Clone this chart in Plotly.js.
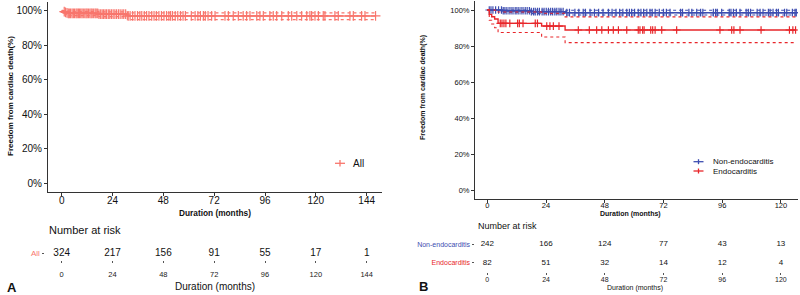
<!DOCTYPE html>
<html>
<head>
<meta charset="utf-8">
<script src="https://cdn.plot.ly/plotly-3.0.1.min.js"></script>
<style>
  html, body { margin: 0; padding: 0; background: #fff; }
  #chart { width: 800px; height: 295px; }
</style>
</head>
<body>
<div id="chart"></div>
<script>
// ---------------- Panel A data (All patients) ----------------
const timesA = [0, 0.4, 0.9, 1.5, 2.2, 3.0, 17.5, 31.0];
const survA  = [100, 99.7, 99.4, 99.0, 98.7, 98.4, 98.0, 96.9];
const upperA = [100, 100, 100, 99.9, 99.7, 99.5, 99.3, 98.7];
const lowerA = [100, 99.1, 98.7, 98.1, 97.6, 97.1, 96.5, 94.8];
const endA = 148.2;
const censorA = [1.2, 1.8, 2.5, 3.1, 3.6, 4.2, 4.9, 5.5, 6.1, 6.8, 7.3, 7.9, 8.4, 9.0, 9.6,
  10.2, 10.9, 11.5, 12.0, 12.6, 13.3, 13.9, 14.4, 15.1, 15.8, 16.3, 17.0, 17.6, 18.4, 19.1,
  19.8, 20.5, 21.2, 22.0, 22.7, 23.5, 24.3, 25.1, 25.9, 26.8, 27.6, 28.5, 29.3, 30.2, 31.4,
  32.3, 33.5, 34.6, 35.8, 36.9, 37.8, 39.0, 40.1, 41.2, 42.5, 43.6, 44.7, 45.9, 47.1, 48.3,
  49.5, 50.6, 51.4, 52.3, 53.6, 54.8, 56.1, 57.3, 58.4, 61.2, 63.0, 64.3, 65.5, 66.9, 67.8,
  69.1, 70.8, 72.4, 77.1, 78.7, 81.0, 83.4, 85.7, 87.3, 88.9, 92.1, 93.6, 95.2, 98.3, 99.9,
  101.5, 103.9, 107.0, 108.6, 111.0, 113.3, 115.7, 117.2, 118.0, 119.6, 121.2, 123.5, 124.3,
  129.0, 130.6, 136.1, 137.7, 141.6, 143.2, 148.2];
const riskTimesA = [0, 24, 48, 72, 96, 120, 144];
const riskAll = [324, 217, 156, 91, 55, 17, 1];

// ---------------- Panel B data ----------------
const timesNon = [0, 6.0, 17.5, 31.8];
const survNon  = [100, 99.6, 99.1, 98.5];
const upperNon = [100, 100, 100, 99.9];
const lowerNon = [100, 98.8, 98.0, 97.2];
const endNon = 126.3;
const censorNon = [0.8, 1.5, 2.3, 3.4, 4.6, 5.8, 6.5, 7.2, 8.0, 8.9, 9.7, 10.5, 11.4, 12.1,
  12.9, 13.8, 14.6, 15.5, 16.3, 17.2, 18.0, 18.9, 19.6, 20.5, 21.3, 22.4, 23.2, 24.1, 25.0,
  25.9, 26.7, 27.6, 28.4, 29.3, 30.1, 31.0, 32.5, 33.6, 35.8, 37.4, 39.2, 40.1, 42.0, 43.8,
  45.5, 47.3, 49.5, 51.0, 52.6, 54.1, 55.4, 57.0, 58.1, 59.0, 60.2, 61.7, 62.8, 63.9, 65.2,
  66.5, 67.4, 68.6, 70.3, 72.0, 73.2, 74.7, 79.0, 79.8, 82.4, 83.6, 85.6, 87.2, 88.1, 92.4,
  93.3, 94.0, 95.8, 98.9, 99.6, 100.6, 101.8, 103.3, 105.8, 106.7, 107.6, 110.3, 111.5,
  112.7, 114.9, 115.6, 116.8, 118.2, 119.0, 121.5, 122.4, 124.7, 125.8, 126.3];

const timesEndo = [0, 0.8, 1.8, 3.0, 4.4, 22.2, 31.8];
const survEndo  = [100, 97.6, 96.3, 95.0, 92.6, 91.1, 88.9];
const upperEndo = [100, 100, 100, 99.9, 98.9, 98.2, 96.2];
const lowerEndo = [100, 94.3, 92.2, 90.2, 87.5, 85.0, 81.9];
const endEndo = 126.0;
const censorEndo = [5.3, 6.0, 6.8, 7.6, 9.2, 12.4, 13.1, 14.6, 19.6, 20.5, 24.3, 25.6, 27.0,
  29.3, 37.2, 41.7, 44.7, 46.8, 49.5, 51.5, 53.6, 57.0, 61.7, 62.4, 63.5, 64.1, 66.8, 67.6,
  68.6, 71.3, 77.4, 95.1, 99.9, 100.8, 103.3, 111.9, 123.5, 124.9, 126.0];

const riskTimesB = [0, 24, 48, 72, 96, 120];
const riskNon  = [242, 166, 124, 77, 43, 13];
const riskEndo = [82, 51, 32, 14, 12, 4];

const groupLabelsB = ['Endocarditis', 'Non-endocarditis'];

// ---------------- styles ----------------
const colA = '#F8766D';
const colNon = '#3D4DB0';
const colEndo = '#E8262A';
const FONT = 'Liberation Sans, Arial, Helvetica, sans-serif';
const W = 800, H = 295;
const px = v => v / W;
const py = v => 1 - v / H;

function stepXY(times, vals, end) {
  return { x: times.concat([end]), y: vals.concat([vals[vals.length - 1]]) };
}
function survAt(times, vals, t) {
  let v = vals[0];
  for (let i = 0; i < times.length; i++) if (times[i] <= t) v = vals[i];
  return v;
}

function kmTraces(times, surv, up, lo, end, cens, color, xa, ya, msize, lw) {
  const s = stepXY(times, surv, end);
  const u = stepXY(times, up, end);
  const l = stepXY(times, lo, end);
  const common = { type: 'scatter', mode: 'lines', xaxis: xa, yaxis: ya, hoverinfo: 'skip', showlegend: false };
  return [
    Object.assign({}, common, { x: u.x, y: u.y, line: { color: color, width: 1.1, dash: 'dot', shape: 'hv' } }),
    Object.assign({}, common, { x: l.x, y: l.y, line: { color: color, width: 1.1, dash: 'dot', shape: 'hv' } }),
    Object.assign({}, common, { x: s.x, y: s.y, line: { color: color, width: lw, shape: 'hv' } }),
    { type: 'scatter', mode: 'markers', xaxis: xa, yaxis: ya, hoverinfo: 'skip', showlegend: false,
      x: cens, y: cens.map(t => survAt(times, surv, t)),
      marker: { symbol: 'cross-thin', size: msize, color: color, line: { color: color, width: 1.2 } } }
  ];
}

const data = [];
data.push(...kmTraces(timesA, survA, upperA, lowerA, endA, censorA, colA, 'x', 'y', 7, 1.5));
data.push(...kmTraces(timesNon, survNon, upperNon, lowerNon, endNon, censorNon, colNon, 'x2', 'y2', 5.5, 1.4));
data.push(...kmTraces(timesEndo, survEndo, upperEndo, lowerEndo, endEndo, censorEndo, colEndo, 'x2', 'y2', 5.5, 1.4));

// risk tables
data.push({ type: 'scatter', mode: 'text', xaxis: 'x3', yaxis: 'y3', x: riskTimesA,
  y: riskAll.map(() => 0), text: riskAll.map(String), textposition: 'middle center',
  textfont: { size: 10, color: '#111' }, hoverinfo: 'skip', showlegend: false });
data.push({ type: 'scatter', mode: 'text', xaxis: 'x4', yaxis: 'y4', x: riskTimesB,
  y: riskNon.map(() => 1), text: riskNon.map(String), textposition: 'middle center',
  textfont: { size: 8, color: '#111' }, hoverinfo: 'skip', showlegend: false });
data.push({ type: 'scatter', mode: 'text', xaxis: 'x4', yaxis: 'y4', x: riskTimesB,
  y: riskEndo.map(() => 0), text: riskEndo.map(String), textposition: 'middle center',
  textfont: { size: 8, color: '#111' }, hoverinfo: 'skip', showlegend: false });

const axisLine = { showline: true, linecolor: '#333', linewidth: 1, ticks: 'outside', ticklen: 3,
  tickcolor: '#333', showgrid: false, zeroline: false, fixedrange: true };

const ticksPct = [0, 20, 40, 60, 80, 100];
const layout = {
  width: W, height: H,
  margin: { l: 0, r: 0, t: 0, b: 0 },
  paper_bgcolor: '#fff', plot_bgcolor: '#fff',
  font: { family: FONT, color: '#111' },
  showlegend: false,
  xaxis: Object.assign({}, axisLine, { domain: [px(48), px(381.7)], range: [-6.47, 151.1], anchor: 'y',
    tickvals: riskTimesA, tickfont: { size: 10, color: '#111' }, ticklabelstandoff: -4 }),
  yaxis: Object.assign({}, axisLine, { domain: [py(191.7), py(2)], range: [-5, 105], anchor: 'x',
    tickvals: ticksPct, ticktext: ticksPct.map(v => v + '%'), tickfont: { size: 10, color: '#111' } }),
  xaxis2: Object.assign({}, axisLine, { domain: [px(475), px(798)], range: [-5.03, 127], anchor: 'y2',
    tickvals: riskTimesB, tickfont: { size: 7.5, color: '#111' }, ticklabelstandoff: -4 }),
  yaxis2: Object.assign({}, axisLine, { domain: [py(199.3), py(1)], range: [-5, 105], anchor: 'x2',
    tickvals: ticksPct, ticktext: ticksPct.map(v => v + '%'), tickfont: { size: 7.5, color: '#111' } }),
  xaxis3: { domain: [px(48), px(381.7)], range: [-6.47, 151.1], anchor: 'y3', showline: false,
    showgrid: false, zeroline: false, ticks: 'outside', ticklen: 2, tickcolor: '#555',
    tickvals: riskTimesA, tickfont: { size: 7.5, color: '#222' }, ticklabelstandoff: 5, fixedrange: true },
  yaxis3: { domain: [py(260), py(246)], range: [-0.5, 0.5], anchor: 'free', position: px(44),
    showline: false, showgrid: false, zeroline: false, ticks: 'outside', ticklen: 2.5, tickcolor: '#555',
    tickvals: [0], ticktext: ['All'], tickfont: { size: 8, color: colA }, fixedrange: true },
  xaxis4: { domain: [px(475), px(798)], range: [-5.03, 127], anchor: 'y4', showline: false,
    showgrid: false, zeroline: false, ticks: 'outside', ticklen: 2, tickcolor: '#555',
    tickvals: riskTimesB, tickfont: { size: 7, color: '#222' }, ticklabelstandoff: -1, fixedrange: true },
  yaxis4: { domain: [py(272), py(235)], range: [-0.5, 1.5], anchor: 'free', position: px(474),
    showline: false, showgrid: false, zeroline: false, ticks: 'outside', ticklen: 2.5, tickcolor: '#555',
    tickvals: [0, 1], ticktext: [
      '<span style="color:' + colEndo + '">' + groupLabelsB[0] + '</span>',
      '<span style="color:' + colNon + '">' + groupLabelsB[1] + '</span>'],
    tickfont: { size: 7 }, fixedrange: true },
  annotations: [
    { text: '<b>Freedom from cardiac death(%)</b>', xref: 'paper', yref: 'paper', x: px(10), y: py(96),
      textangle: -90, showarrow: false, font: { size: 8, color: '#111' }, xanchor: 'center', yanchor: 'middle' },
    { text: '<b>Duration (months)</b>', xref: 'paper', yref: 'paper', x: px(215), y: py(212.7),
      showarrow: false, font: { size: 8.3, color: '#111' }, xanchor: 'center', yanchor: 'middle' },
    { text: 'Number at risk', xref: 'paper', yref: 'paper', x: px(47), y: py(230),
      showarrow: false, font: { size: 11, color: '#111' }, xanchor: 'left', yanchor: 'middle' },
    { text: 'Duration (months)', xref: 'paper', yref: 'paper', x: px(215), y: py(286),
      showarrow: false, font: { size: 10, color: '#111' }, xanchor: 'center', yanchor: 'middle' },
    { text: '<b>A</b>', xref: 'paper', yref: 'paper', x: px(12), y: py(287),
      showarrow: false, font: { size: 13, color: '#111' }, xanchor: 'center', yanchor: 'middle' },
    { text: 'All', xref: 'paper', yref: 'paper', x: px(350.5), y: py(163.3),
      showarrow: false, font: { size: 10, color: '#111' }, xanchor: 'left', yanchor: 'middle' },

    { text: '<b>Freedom from cardiac death(%)</b>', xref: 'paper', yref: 'paper', x: px(422.5), y: py(87.5),
      textangle: -90, showarrow: false, font: { size: 7, color: '#111' }, xanchor: 'center', yanchor: 'middle' },
    { text: '<b>Duration (months)</b>', xref: 'paper', yref: 'paper', x: px(630), y: py(214.3),
      showarrow: false, font: { size: 7, color: '#111' }, xanchor: 'center', yanchor: 'middle' },
    { text: 'Number at risk', xref: 'paper', yref: 'paper', x: px(475.5), y: py(226),
      showarrow: false, font: { size: 9, color: '#111' }, xanchor: 'left', yanchor: 'middle' },
    { text: 'Duration (months)', xref: 'paper', yref: 'paper', x: px(635), y: py(288.3),
      showarrow: false, font: { size: 7, color: '#111' }, xanchor: 'center', yanchor: 'middle' },
    { text: '<b>B</b>', xref: 'paper', yref: 'paper', x: px(423.5), y: py(286),
      showarrow: false, font: { size: 13, color: '#111' }, xanchor: 'center', yanchor: 'middle' },
    { text: groupLabelsB[1], xref: 'paper', yref: 'paper', x: px(711), y: py(161.7),
      showarrow: false, font: { size: 8, color: '#111' }, xanchor: 'left', yanchor: 'middle' },
    { text: groupLabelsB[0], xref: 'paper', yref: 'paper', x: px(711), y: py(171),
      showarrow: false, font: { size: 8, color: '#111' }, xanchor: 'left', yanchor: 'middle' }
  ],
  shapes: [
    // legend keys (line + cross)
    { type: 'line', xref: 'paper', yref: 'paper', x0: px(335), x1: px(345), y0: py(163.3), y1: py(163.3), line: { color: colA, width: 1.3 } },
    { type: 'line', xref: 'paper', yref: 'paper', x0: px(340), x1: px(340), y0: py(160), y1: py(166.6), line: { color: colA, width: 1.3 } },
    { type: 'line', xref: 'paper', yref: 'paper', x0: px(693.5), x1: px(703.5), y0: py(161.7), y1: py(161.7), line: { color: colNon, width: 1.3 } },
    { type: 'line', xref: 'paper', yref: 'paper', x0: px(698.5), x1: px(698.5), y0: py(159.2), y1: py(164.2), line: { color: colNon, width: 1.3 } },
    { type: 'line', xref: 'paper', yref: 'paper', x0: px(693.5), x1: px(703.5), y0: py(171), y1: py(171), line: { color: colEndo, width: 1.3 } },
    { type: 'line', xref: 'paper', yref: 'paper', x0: px(698.5), x1: px(698.5), y0: py(168.5), y1: py(173.5), line: { color: colEndo, width: 1.3 } }
  ]
};

Plotly.newPlot('chart', data, layout, { staticPlot: true, displayModeBar: false });
</script>
</body>
</html>
